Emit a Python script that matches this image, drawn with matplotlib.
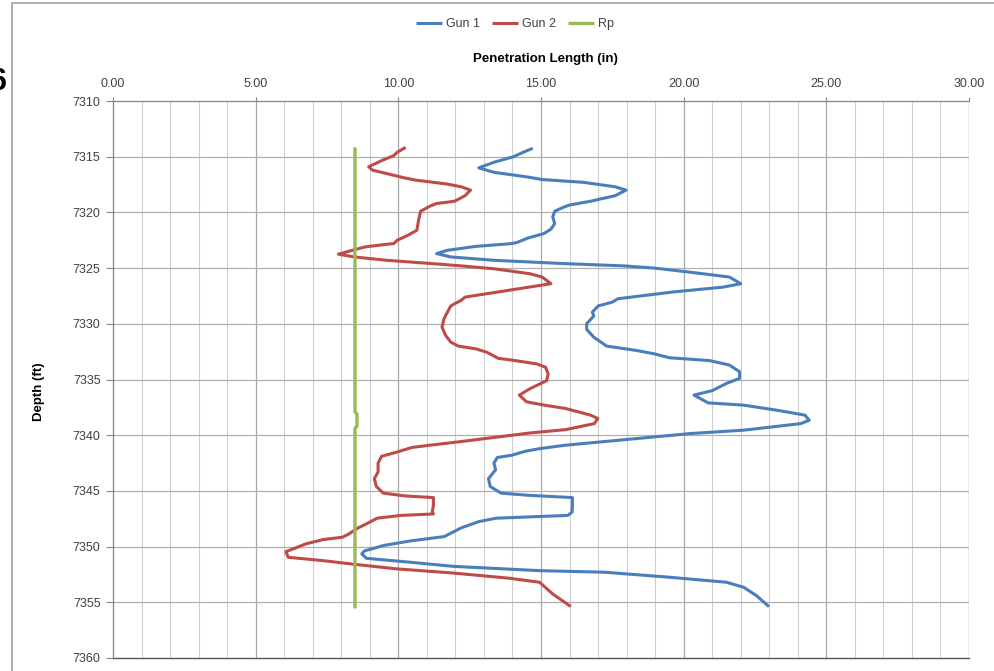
import matplotlib
matplotlib.use("Agg")
import matplotlib.pyplot as plt
from matplotlib.patches import Rectangle
import numpy as np

plt.rcParams['font.family'] = ['Liberation Sans', 'DejaVu Sans']

# Gun 1 penetration length (in) vs depth (ft)
gun1_depth = [7314.3, 7314.5, 7314.85, 7315.0, 7315.5, 7316.0, 7316.4, 7316.85, 7317.05, 7317.3,
              7317.7, 7318.0, 7318.5, 7319.0, 7319.35, 7319.6, 7319.9, 7320.4, 7321.0, 7321.5,
              7321.9, 7322.3, 7322.7, 7322.8, 7323.05, 7323.4, 7323.7, 7324.0, 7324.3, 7324.6,
              7324.8, 7325.0, 7325.36, 7325.8, 7326.4, 7326.7, 7327.15, 7327.75, 7328.05, 7328.4,
              7328.95, 7329.3, 7330.0, 7330.5, 7331.2, 7332.0, 7332.4, 7332.7, 7333.05, 7333.3,
              7333.7, 7334.3, 7334.9, 7335.35, 7336.0, 7336.4, 7337.1, 7337.3, 7337.8, 7338.2,
              7338.66, 7338.96, 7339.55, 7339.85, 7340.45, 7340.9, 7341.2, 7341.43, 7341.8, 7342.0,
              7342.5, 7343.1, 7343.9, 7344.6, 7345.2, 7345.4, 7345.6, 7346.25, 7346.9, 7347.2,
              7347.45, 7347.75, 7348.3, 7349.1, 7349.3, 7349.5, 7349.9, 7350.4, 7350.66, 7351.05,
              7351.4, 7351.77, 7352.16, 7352.3, 7352.75, 7353.2, 7353.65, 7354.4, 7355.3]
gun1_pen = [14.66, 14.47, 14.16, 14.04, 13.35, 12.82, 13.35, 14.6, 15.04, 16.48,
            17.6, 17.98, 17.6, 16.73, 15.98, 15.73, 15.48, 15.41, 15.48, 15.35,
            15.1, 14.54, 14.16, 13.97, 12.72, 11.72, 11.34, 11.84, 13.35, 15.85,
            17.9, 18.98, 20.2, 21.6, 22.0, 21.4, 19.6, 17.7, 17.5, 17.0,
            16.8, 16.85, 16.6, 16.6, 16.85, 17.3, 18.36, 18.98, 19.5, 20.9,
            21.6, 21.96, 21.96, 21.5, 21.0, 20.36, 20.86, 22.1, 23.37, 24.25,
            24.4, 24.1, 22.1, 20.24, 17.73, 15.85, 14.97, 14.47, 13.97, 13.47,
            13.35, 13.41, 13.16, 13.22, 13.6, 14.6, 16.1, 16.1, 16.09, 15.94,
            13.43, 12.83, 12.22, 11.61, 11.0, 10.4, 9.48, 8.8, 8.72, 8.88,
            10.4, 11.91, 14.95, 17.23, 19.5, 21.5, 22.1, 22.55, 22.95]

# Gun 2 penetration length (in) vs depth (ft)
gun2_depth = [7314.23, 7314.6, 7314.9, 7315.3, 7315.9, 7316.2, 7316.9, 7317.1, 7317.45, 7317.7,
              7318.0, 7318.5, 7319.0, 7319.2, 7319.45, 7319.9, 7320.7, 7321.6, 7322.05, 7322.5,
              7322.8, 7322.9, 7323.1, 7323.35, 7323.75, 7324.0, 7324.3, 7324.6, 7324.8, 7325.06,
              7325.5, 7325.8, 7326.4, 7326.7, 7327.1, 7327.6, 7327.9, 7328.2, 7328.4, 7328.95,
              7329.55, 7330.3, 7331.05, 7331.65, 7332.0, 7332.25, 7332.55, 7333.1, 7333.3, 7333.6,
              7333.9, 7334.5, 7335.1, 7335.83, 7336.4, 7337.0, 7337.3, 7337.6, 7338.2, 7338.5,
              7338.96, 7339.5, 7339.8, 7340.2, 7340.6, 7340.9, 7341.1, 7341.5, 7341.9, 7342.5,
              7343.3, 7343.9, 7344.6, 7345.2, 7345.45, 7345.6, 7346.25, 7346.9, 7347.07, 7347.2,
              7347.45, 7347.96, 7348.35, 7348.86, 7349.16, 7349.37, 7349.76, 7350.15, 7350.45, 7350.96,
              7351.26, 7351.6, 7352.0, 7352.37, 7352.84, 7353.2, 7354.25, 7355.3]
gun2_pen = [10.21, 9.96, 9.84, 9.46, 8.96, 9.09, 10.21, 10.6, 11.7, 12.2,
            12.53, 12.34, 11.97, 11.34, 11.1, 10.78, 10.71, 10.65, 10.34, 9.96,
            9.84, 9.46, 8.83, 8.46, 7.9, 8.46, 9.6, 11.2, 12.2, 13.35,
            14.6, 15.04, 15.35, 14.6, 13.6, 12.34, 12.2, 11.97, 11.84, 11.72,
            11.6, 11.53, 11.66, 11.84, 12.1, 12.72, 13.1, 13.5, 14.1, 14.85,
            15.16, 15.25, 15.2, 14.61, 14.24, 14.49, 15.11, 15.86, 16.74, 16.99,
            16.87, 15.86, 14.61, 13.36, 12.1, 11.1, 10.48, 9.97, 9.41, 9.29,
            9.29, 9.16, 9.23, 9.47, 10.23, 11.23, 11.23, 11.19, 11.23, 10.09,
            9.26, 8.88, 8.57, 8.27, 8.04, 7.36, 6.75, 6.37, 6.06, 6.14,
            7.36, 8.5, 9.94, 11.91, 13.89, 14.95, 15.41, 16.0]

# Rp reference line
rp_depth = [7314.3, 7337.9, 7338.1, 7339.2, 7339.4, 7355.4]
rp_pen = [8.48, 8.48, 8.55, 8.55, 8.48, 8.48]

series_names = ["Gun 1", "Gun 2", "Rp"]
series_colors = ["#4A7EBB", "#BE4B48", "#98B954"]
x_ticks = [0, 5, 10, 15, 20, 25, 30]
y_ticks = list(range(7310, 7361, 5))

W, H = 994, 671
fig = plt.figure(figsize=(W / 100, H / 100), dpi=100)
ax = fig.add_axes([113 / W, 1 - 658 / H, (969 - 113) / W, (658 - 101) / H])

# chart-area border
fig.patches.append(Rectangle((12 / W, -0.1), 1.2, 1 - 3 / H + 0.1, transform=fig.transFigure,
                             fill=False, edgecolor="#a0a0a0", linewidth=1.2, zorder=0))

ax.set_xlim(0, 30)
ax.set_ylim(7360, 7310)

# grid: minor verticals every 1 in, major every 5 in, horizontals every 5 ft
for xv in np.arange(1, 30, 1):
    major = (xv % 5 == 0)
    ax.axvline(xv, color="#a8a8a8" if major else "#cfcfcf", lw=0.9 if major else 0.8, zorder=0)
ax.axvline(30, color="#9a9a9a", lw=1.0, zorder=0)
for yv in y_ticks[1:-1]:
    ax.axhline(yv, color="#b0b0b0", lw=0.9, zorder=0)

l1, = ax.plot(gun1_pen, gun1_depth, color=series_colors[0], lw=2.2, solid_joinstyle="round")
l2, = ax.plot(gun2_pen, gun2_depth, color=series_colors[1], lw=2.2, solid_joinstyle="round")
l3, = ax.plot(rp_pen, rp_depth, color=series_colors[2], lw=2.4)

ax.xaxis.tick_top()
ax.set_xticks(x_ticks)
ax.set_xticklabels([f"{v:.2f}" for v in x_ticks])
ax.set_yticks(y_ticks)
ax.set_yticklabels([str(v) for v in y_ticks])
ax.tick_params(axis="x", which="both", top=True, bottom=False, length=3, width=0.8,
               color="#868686", pad=5, labelsize=9, labelcolor="#404040")
ax.tick_params(axis="y", length=5, width=0.8, color="#868686", pad=4,
               labelsize=9, labelcolor="#404040")

for side in ["left", "top"]:
    ax.spines[side].set_color("#868686")
    ax.spines[side].set_linewidth(0.9)
ax.spines["right"].set_visible(False)
ax.spines["bottom"].set_color("#555555")
ax.spines["bottom"].set_linewidth(1.0)

fig.text(545 / W, 1 - 59 / H, "Penetration Length (in)", ha="center", va="center",
         fontsize=9.5, fontweight="bold")
fig.text(39 / W, 1 - 392 / H, "Depth (ft)", ha="center", va="center", rotation=90,
         fontsize=9.5, fontweight="bold")
fig.text(7 / W, 1 - 82 / H, "6", ha="right", va="center", fontsize=22, fontweight="bold")

leg = fig.legend([l1, l2, l3], series_names, loc="center", bbox_to_anchor=(515 / W, 1 - 24 / H),
                 ncol=3, frameon=False, fontsize=9, handlelength=2.1, handletextpad=0.35,
                 columnspacing=0.9, labelcolor="#404040")
for h in leg.legend_handles:
    h.set_solid_capstyle("butt")

fig.savefig("out.png", dpi=100)
